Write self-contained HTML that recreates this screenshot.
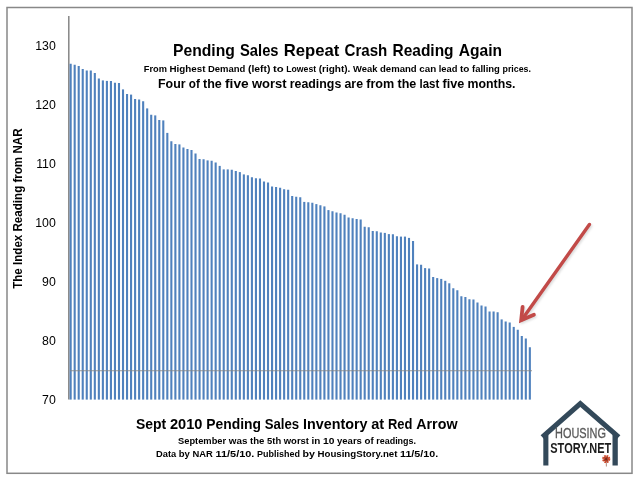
<!DOCTYPE html>
<html><head><meta charset="utf-8"><title>Pending Sales Repeat Crash Reading Again</title>
<style>
html,body{margin:0;padding:0;background:#fff;}
body{width:640px;height:480px;overflow:hidden;font-family:"Liberation Sans",sans-serif;}
svg{display:block;}
svg text{font-family:"Liberation Sans",sans-serif;fill:#000;}
.b{font-weight:bold;}
</style></head><body>
<svg width="640" height="480" viewBox="0 0 640 480">
<defs><filter id="sh" x="-20%" y="-20%" width="140%" height="140%"><feGaussianBlur stdDeviation="1.1"/></filter></defs>
<rect x="0" y="0" width="640" height="480" fill="#fff"/>
<rect x="7" y="7.5" width="625" height="465.8" fill="none" stroke="#888" stroke-width="1.5"/>
<!-- axis -->
<line x1="68.8" y1="16" x2="68.8" y2="399.6" stroke="#868686" stroke-width="1.5"/>
<g fill="#4f81bd">
<rect x="69.60" y="63.75" width="2.1" height="335.85"/>
<rect x="73.63" y="64.75" width="2.1" height="334.85"/>
<rect x="77.66" y="66.00" width="2.1" height="333.60"/>
<rect x="81.68" y="69.00" width="2.1" height="330.60"/>
<rect x="85.71" y="70.50" width="2.1" height="329.10"/>
<rect x="89.74" y="70.50" width="2.1" height="329.10"/>
<rect x="93.77" y="73.00" width="2.1" height="326.60"/>
<rect x="97.80" y="78.50" width="2.1" height="321.10"/>
<rect x="101.82" y="80.40" width="2.1" height="319.20"/>
<rect x="105.85" y="80.90" width="2.1" height="318.70"/>
<rect x="109.88" y="81.00" width="2.1" height="318.60"/>
<rect x="113.91" y="82.75" width="2.1" height="316.85"/>
<rect x="117.94" y="83.00" width="2.1" height="316.60"/>
<rect x="121.96" y="89.40" width="2.1" height="310.20"/>
<rect x="125.99" y="94.00" width="2.1" height="305.60"/>
<rect x="130.02" y="94.60" width="2.1" height="305.00"/>
<rect x="134.05" y="99.00" width="2.1" height="300.60"/>
<rect x="138.08" y="99.50" width="2.1" height="300.10"/>
<rect x="142.10" y="101.25" width="2.1" height="298.35"/>
<rect x="146.13" y="108.40" width="2.1" height="291.20"/>
<rect x="150.16" y="114.75" width="2.1" height="284.85"/>
<rect x="154.19" y="115.40" width="2.1" height="284.20"/>
<rect x="158.22" y="120.00" width="2.1" height="279.60"/>
<rect x="162.24" y="120.40" width="2.1" height="279.20"/>
<rect x="166.27" y="132.90" width="2.1" height="266.70"/>
<rect x="170.30" y="141.25" width="2.1" height="258.35"/>
<rect x="174.33" y="144.00" width="2.1" height="255.60"/>
<rect x="178.36" y="144.40" width="2.1" height="255.20"/>
<rect x="182.38" y="147.50" width="2.1" height="252.10"/>
<rect x="186.41" y="149.00" width="2.1" height="250.60"/>
<rect x="190.44" y="150.00" width="2.1" height="249.60"/>
<rect x="194.47" y="153.50" width="2.1" height="246.10"/>
<rect x="198.50" y="159.00" width="2.1" height="240.60"/>
<rect x="202.52" y="159.25" width="2.1" height="240.35"/>
<rect x="206.55" y="160.40" width="2.1" height="239.20"/>
<rect x="210.58" y="160.75" width="2.1" height="238.85"/>
<rect x="214.61" y="162.50" width="2.1" height="237.10"/>
<rect x="218.64" y="165.90" width="2.1" height="233.70"/>
<rect x="222.66" y="169.40" width="2.1" height="230.20"/>
<rect x="226.69" y="169.40" width="2.1" height="230.20"/>
<rect x="230.72" y="169.75" width="2.1" height="229.85"/>
<rect x="234.75" y="171.00" width="2.1" height="228.60"/>
<rect x="238.78" y="172.10" width="2.1" height="227.50"/>
<rect x="242.80" y="174.40" width="2.1" height="225.20"/>
<rect x="246.83" y="175.25" width="2.1" height="224.35"/>
<rect x="250.86" y="177.25" width="2.1" height="222.35"/>
<rect x="254.89" y="178.25" width="2.1" height="221.35"/>
<rect x="258.92" y="178.50" width="2.1" height="221.10"/>
<rect x="262.94" y="181.50" width="2.1" height="218.10"/>
<rect x="266.97" y="182.50" width="2.1" height="217.10"/>
<rect x="271.00" y="186.50" width="2.1" height="213.10"/>
<rect x="275.03" y="187.00" width="2.1" height="212.60"/>
<rect x="279.06" y="187.75" width="2.1" height="211.85"/>
<rect x="283.08" y="189.25" width="2.1" height="210.35"/>
<rect x="287.11" y="189.75" width="2.1" height="209.85"/>
<rect x="291.14" y="196.00" width="2.1" height="203.60"/>
<rect x="295.17" y="196.75" width="2.1" height="202.85"/>
<rect x="299.20" y="197.25" width="2.1" height="202.35"/>
<rect x="303.22" y="201.90" width="2.1" height="197.70"/>
<rect x="307.25" y="202.25" width="2.1" height="197.35"/>
<rect x="311.28" y="202.75" width="2.1" height="196.85"/>
<rect x="315.31" y="204.10" width="2.1" height="195.50"/>
<rect x="319.34" y="205.25" width="2.1" height="194.35"/>
<rect x="323.36" y="206.40" width="2.1" height="193.20"/>
<rect x="327.39" y="210.10" width="2.1" height="189.50"/>
<rect x="331.42" y="211.25" width="2.1" height="188.35"/>
<rect x="335.45" y="212.50" width="2.1" height="187.10"/>
<rect x="339.48" y="213.25" width="2.1" height="186.35"/>
<rect x="343.50" y="214.75" width="2.1" height="184.85"/>
<rect x="347.53" y="217.50" width="2.1" height="182.10"/>
<rect x="351.56" y="218.25" width="2.1" height="181.35"/>
<rect x="355.59" y="219.00" width="2.1" height="180.60"/>
<rect x="359.62" y="219.50" width="2.1" height="180.10"/>
<rect x="363.64" y="226.75" width="2.1" height="172.85"/>
<rect x="367.67" y="227.25" width="2.1" height="172.35"/>
<rect x="371.70" y="231.00" width="2.1" height="168.60"/>
<rect x="375.73" y="231.25" width="2.1" height="168.35"/>
<rect x="379.76" y="232.50" width="2.1" height="167.10"/>
<rect x="383.78" y="232.90" width="2.1" height="166.70"/>
<rect x="387.81" y="234.10" width="2.1" height="165.50"/>
<rect x="391.84" y="234.25" width="2.1" height="165.35"/>
<rect x="395.87" y="236.25" width="2.1" height="163.35"/>
<rect x="399.90" y="236.60" width="2.1" height="163.00"/>
<rect x="403.92" y="236.60" width="2.1" height="163.00"/>
<rect x="407.95" y="237.90" width="2.1" height="161.70"/>
<rect x="411.98" y="241.00" width="2.1" height="158.60"/>
<rect x="416.01" y="264.40" width="2.1" height="135.20"/>
<rect x="420.04" y="264.75" width="2.1" height="134.85"/>
<rect x="424.06" y="268.10" width="2.1" height="131.50"/>
<rect x="428.09" y="268.50" width="2.1" height="131.10"/>
<rect x="432.12" y="277.00" width="2.1" height="122.60"/>
<rect x="436.15" y="278.10" width="2.1" height="121.50"/>
<rect x="440.18" y="278.90" width="2.1" height="120.70"/>
<rect x="444.20" y="280.80" width="2.1" height="118.80"/>
<rect x="448.23" y="283.30" width="2.1" height="116.30"/>
<rect x="452.26" y="288.25" width="2.1" height="111.35"/>
<rect x="456.29" y="290.25" width="2.1" height="109.35"/>
<rect x="460.32" y="296.25" width="2.1" height="103.35"/>
<rect x="464.34" y="297.00" width="2.1" height="102.60"/>
<rect x="468.37" y="299.25" width="2.1" height="100.35"/>
<rect x="472.40" y="299.50" width="2.1" height="100.10"/>
<rect x="476.43" y="302.50" width="2.1" height="97.10"/>
<rect x="480.46" y="305.50" width="2.1" height="94.10"/>
<rect x="484.48" y="306.50" width="2.1" height="93.10"/>
<rect x="488.51" y="311.50" width="2.1" height="88.10"/>
<rect x="492.54" y="311.50" width="2.1" height="88.10"/>
<rect x="496.57" y="312.25" width="2.1" height="87.35"/>
<rect x="500.60" y="319.40" width="2.1" height="80.20"/>
<rect x="504.62" y="321.50" width="2.1" height="78.10"/>
<rect x="508.65" y="322.50" width="2.1" height="77.10"/>
<rect x="512.68" y="326.90" width="2.1" height="72.70"/>
<rect x="516.71" y="329.75" width="2.1" height="69.85"/>
<rect x="520.74" y="336.00" width="2.1" height="63.60"/>
<rect x="524.76" y="338.50" width="2.1" height="61.10"/>
<rect x="528.79" y="347.25" width="2.1" height="52.35"/>
</g>
<line x1="70" y1="370.7" x2="532" y2="370.7" stroke="#868686" stroke-width="1.1" opacity="0.85"/>
<g font-size="12.3">
<text x="55.8" y="404.1" text-anchor="end">70</text>
<text x="55.8" y="345.1" text-anchor="end">80</text>
<text x="55.8" y="286.1" text-anchor="end">90</text>
<text x="55.8" y="227.2" text-anchor="end">100</text>
<text x="55.8" y="168.2" text-anchor="end">110</text>
<text x="55.8" y="109.2" text-anchor="end">120</text>
<text x="55.8" y="50.2" text-anchor="end">130</text>
</g>
<!-- titles -->
<text class="b" y="56.3" font-size="16.4"><tspan x="173.00" textLength="61.80" lengthAdjust="spacingAndGlyphs">Pending</tspan> <tspan x="240.00" textLength="38.55" lengthAdjust="spacingAndGlyphs">Sales</tspan> <tspan x="283.75" textLength="55.55" lengthAdjust="spacingAndGlyphs">Repeat</tspan> <tspan x="344.50" textLength="42.80" lengthAdjust="spacingAndGlyphs">Crash</tspan> <tspan x="392.50" textLength="61.05" lengthAdjust="spacingAndGlyphs">Reading</tspan> <tspan x="458.75" textLength="43.25" lengthAdjust="spacingAndGlyphs">Again</tspan></text>
<text class="b" y="71.8" font-size="9.5"><tspan x="143.75" textLength="23.15" lengthAdjust="spacingAndGlyphs">From</tspan> <tspan x="169.50" textLength="35.90" lengthAdjust="spacingAndGlyphs">Highest</tspan> <tspan x="208.00" textLength="37.40" lengthAdjust="spacingAndGlyphs">Demand</tspan> <tspan x="248.00" textLength="22.40" lengthAdjust="spacingAndGlyphs">(left)</tspan> <tspan x="273.00" textLength="10.65" lengthAdjust="spacingAndGlyphs">to</tspan> <tspan x="286.25" textLength="29.90" lengthAdjust="spacingAndGlyphs">Lowest</tspan> <tspan x="318.75" textLength="31.65" lengthAdjust="spacingAndGlyphs">(right).</tspan> <tspan x="353.00" textLength="24.40" lengthAdjust="spacingAndGlyphs">Weak</tspan> <tspan x="380.00" textLength="36.65" lengthAdjust="spacingAndGlyphs">demand</tspan> <tspan x="419.25" textLength="16.90" lengthAdjust="spacingAndGlyphs">can</tspan> <tspan x="438.75" textLength="18.65" lengthAdjust="spacingAndGlyphs">lead</tspan> <tspan x="460.00" textLength="9.40" lengthAdjust="spacingAndGlyphs">to</tspan> <tspan x="472.00" textLength="27.90" lengthAdjust="spacingAndGlyphs">falling</tspan> <tspan x="502.50" textLength="28.50" lengthAdjust="spacingAndGlyphs">prices.</tspan></text>
<text class="b" y="88.3" font-size="12.2"><tspan x="158.00" textLength="27.55" lengthAdjust="spacingAndGlyphs">Four</tspan> <tspan x="188.75" textLength="11.05" lengthAdjust="spacingAndGlyphs">of</tspan> <tspan x="203.00" textLength="18.80" lengthAdjust="spacingAndGlyphs">the</tspan> <tspan x="225.00" textLength="23.70" lengthAdjust="spacingAndGlyphs">five</tspan> <tspan x="251.90" textLength="34.60" lengthAdjust="spacingAndGlyphs">worst</tspan> <tspan x="289.70" textLength="51.60" lengthAdjust="spacingAndGlyphs">readings</tspan> <tspan x="344.50" textLength="18.55" lengthAdjust="spacingAndGlyphs">are</tspan> <tspan x="366.25" textLength="28.05" lengthAdjust="spacingAndGlyphs">from</tspan> <tspan x="397.50" textLength="18.80" lengthAdjust="spacingAndGlyphs">the</tspan> <tspan x="419.50" textLength="19.80" lengthAdjust="spacingAndGlyphs">last</tspan> <tspan x="442.50" textLength="21.80" lengthAdjust="spacingAndGlyphs">five</tspan> <tspan x="467.50" textLength="48.00" lengthAdjust="spacingAndGlyphs">months.</tspan></text>
<text class="b" y="428.8" font-size="14"><tspan x="136.00" textLength="30.20" lengthAdjust="spacingAndGlyphs">Sept</tspan> <tspan x="170.00" textLength="32.45" lengthAdjust="spacingAndGlyphs">2010</tspan> <tspan x="206.25" textLength="54.70" lengthAdjust="spacingAndGlyphs">Pending</tspan> <tspan x="264.75" textLength="34.45" lengthAdjust="spacingAndGlyphs">Sales</tspan> <tspan x="303.00" textLength="64.45" lengthAdjust="spacingAndGlyphs">Inventory</tspan> <tspan x="371.25" textLength="12.95" lengthAdjust="spacingAndGlyphs">at</tspan> <tspan x="388.00" textLength="24.45" lengthAdjust="spacingAndGlyphs">Red</tspan> <tspan x="416.25" textLength="41.25" lengthAdjust="spacingAndGlyphs">Arrow</tspan></text>
<text class="b" y="443.8" font-size="9.5"><tspan x="178.00" textLength="48.15" lengthAdjust="spacingAndGlyphs">September</tspan> <tspan x="228.75" textLength="18.65" lengthAdjust="spacingAndGlyphs">was</tspan> <tspan x="250.00" textLength="14.40" lengthAdjust="spacingAndGlyphs">the</tspan> <tspan x="267.00" textLength="14.15" lengthAdjust="spacingAndGlyphs">5th</tspan> <tspan x="283.75" textLength="25.25" lengthAdjust="spacingAndGlyphs">worst</tspan> <tspan x="311.60" textLength="8.80" lengthAdjust="spacingAndGlyphs">in</tspan> <tspan x="323.00" textLength="11.40" lengthAdjust="spacingAndGlyphs">10</tspan> <tspan x="337.00" textLength="24.90" lengthAdjust="spacingAndGlyphs">years</tspan> <tspan x="364.50" textLength="9.15" lengthAdjust="spacingAndGlyphs">of</tspan> <tspan x="376.25" textLength="39.75" lengthAdjust="spacingAndGlyphs">readings.</tspan></text>
<text class="b" y="456.8" font-size="9.5"><tspan x="156.00" textLength="20.15" lengthAdjust="spacingAndGlyphs">Data</tspan> <tspan x="178.75" textLength="11.15" lengthAdjust="spacingAndGlyphs">by</tspan> <tspan x="192.50" textLength="20.40" lengthAdjust="spacingAndGlyphs">NAR</tspan> <tspan x="215.50" textLength="38.90" lengthAdjust="spacingAndGlyphs">11/5/10.</tspan> <tspan x="257.00" textLength="42.90" lengthAdjust="spacingAndGlyphs">Published</tspan> <tspan x="302.50" textLength="12.40" lengthAdjust="spacingAndGlyphs">by</tspan> <tspan x="317.50" textLength="79.90" lengthAdjust="spacingAndGlyphs">HousingStory.net</tspan> <tspan x="400.00" textLength="38.20" lengthAdjust="spacingAndGlyphs">11/5/10.</tspan></text>
<text class="b" transform="translate(22.3 288.8) rotate(-90)" font-size="12.2" textLength="160.3" lengthAdjust="spacingAndGlyphs">The Index Reading from NAR</text>
<!-- arrow -->
<g stroke="#9a9a9a" stroke-width="3.4" fill="none" stroke-linecap="round" opacity="0.35" transform="translate(1.2 1.6)" filter="url(#sh)">
<line x1="589.4" y1="224.5" x2="522" y2="319.6"/>
<polyline points="522.6,306.9 521.2,320.2 533.9,314.8"/>
</g>
<g stroke="#c24a48" stroke-width="3.4" fill="none" stroke-linecap="round" stroke-linejoin="miter">
<line x1="589.4" y1="224.5" x2="522" y2="319.6"/>
<polyline points="522.6,306.9 521.2,320.2 533.9,314.8" stroke-width="3.8"/>
</g>
<!-- logo -->
<g>
<polyline points="542.3,437.2 580.3,403.7 618.7,437.2" fill="none" stroke="#33495a" stroke-width="5.1" stroke-linejoin="miter"/>
<rect x="543.3" y="435" width="5.1" height="30.5" fill="#33495a"/>
<rect x="612.5" y="435" width="5.3" height="30.5" fill="#33495a"/>
<text x="555" y="437.7" font-size="14" textLength="51" lengthAdjust="spacingAndGlyphs" style="fill:#5a5a5a;stroke:#5a5a5a;stroke-width:0.3">HOUSING</text>
<text class="b" x="550.3" y="452.5" font-size="14" textLength="61" lengthAdjust="spacingAndGlyphs" style="fill:#1c1c1c">STORY.NET</text>
<line x1="606.2" y1="460" x2="606.4" y2="466.5" stroke="#9a6a5a" stroke-width="0.8"/>
<circle cx="606.2" cy="459" r="2.6" fill="#6a2a20" stroke="#cf4a2c" stroke-width="3" stroke-dasharray="1.4 0.64"/>
</g>
</svg>
</body></html>
